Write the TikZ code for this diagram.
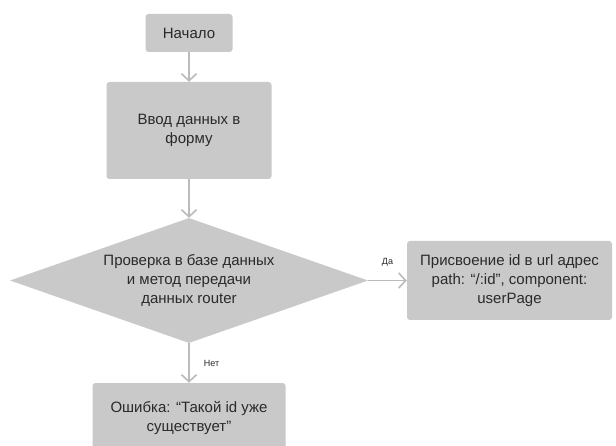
\documentclass[tikz,border=0pt]{standalone}
\usepackage{fontspec}
\setmainfont{Liberation Sans}
\usetikzlibrary{shapes.geometric,arrows.meta}
\definecolor{boxfill}{HTML}{C9C9C9}
\definecolor{linegray}{HTML}{BBBBBB}
\definecolor{txt}{HTML}{2A2A2A}
\tikzset{
  box/.style={rectangle, rounded corners=3pt, fill=boxfill, draw=none, text=txt,
    align=center, inner sep=0pt, font=\fontsize{15}{18.7}\selectfont},
  dec/.style={diamond, aspect=2.88, fill=boxfill, draw=none, text=txt, align=center, inner sep=0pt,
    font=\fontsize{15}{18.7}\selectfont},
  conn/.style={draw=linegray, line width=1.6pt, -{Straight Barb[length=7pt,width=15pt,line width=1.6pt]}},
  lbl/.style={text=txt, font=\fontsize{9}{10}\selectfont, inner sep=0pt}
}
\begin{document}
\begin{tikzpicture}[x=1pt,y=-1pt]
\useasboundingbox (0,0) rectangle (616,446);
\clip (0,0) rectangle (616,446);
\fill[white] (0,0) rectangle (616,446);
\node[box, minimum width=87pt, minimum height=38pt] (start) at (189,33) {Начало};
\node[box, minimum width=165pt, minimum height=97pt] (input) at (189,130.5) {Ввод данных в\\форму};
\node[dec, minimum width=358pt, minimum height=125pt] (check) at (189,280.5) {Проверка в базе данных\\и метод передачи\\данных router};
\node[box, minimum width=205pt, minimum height=79pt] (assign) at (509.5,280.5) {Присвоение id в url адрес\\path: “/:id”, component:\\userPage};
\node[box, minimum width=193pt, minimum height=70pt] (err) at (189,418) {Ошибка: “Такой id уже\\существует”};
\draw[conn] (start.south) -- (input.north);
\draw[conn] (input.south) -- (check.north);
\draw[conn] (check.east) -- node[lbl, above=13pt] {Да} (assign.west);
\draw[conn] (check.south) -- node[lbl, right=14pt, pos=0.5] {Нет} (err.north);
\end{tikzpicture}
\end{document}
